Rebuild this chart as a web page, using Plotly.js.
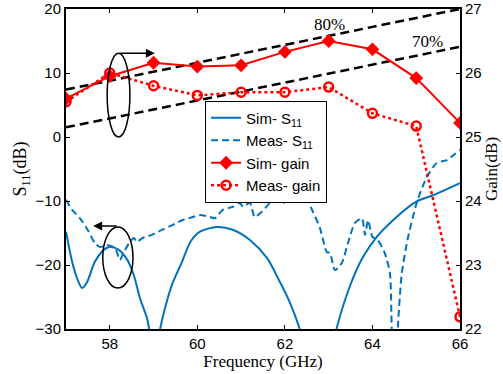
<!DOCTYPE html>
<html>
<head>
<meta charset="utf-8">
<script src="https://cdn.plot.ly/plotly-3.0.1.min.js"></script>
<style>html,body{margin:0;padding:0;background:#fff;}#chart{width:503px;height:374px;}</style>
</head>
<body>
<div id="chart"></div>
<script>
// Simulated S11 (dB)
const simS11Freq = [57.0,57.14,57.25,57.37,57.48,57.66,57.87,58.0,58.2,58.4,58.55,58.69,58.85,58.9,58.98,59.05,59.15,59.24,59.42,59.65,59.85,60.06,60.45,60.81,61.2,61.59,61.89,62.11,62.34,62.5,62.8,63.05,63.19,63.48,63.78,64.1,64.47,65.0,65.38,66.0];
const simS11 = [-14.8,-19.5,-22.0,-23.6,-22.7,-19.5,-17.6,-17.2,-17.6,-19.2,-21.6,-25.2,-28.3,-30.0,-34,-34,-30.0,-27.3,-23.1,-19.5,-16.3,-14.8,-14.06,-14.5,-16.1,-18.9,-22.7,-25.8,-30.0,-34,-38,-34,-29.7,-23.4,-18.8,-15.6,-13.0,-10.1,-9.1,-7.2];
// Measured S11 (dB)
const measS11Freq = [57.0,57.14,57.32,57.52,57.66,57.78,57.94,58.12,58.23,58.32,58.44,58.55,58.62,58.74,58.96,59.19,59.42,59.65,59.85,60.06,60.29,60.4,60.58,60.81,60.97,61.04,61.2,61.31,61.47,61.66,61.82,61.95,62.11,62.27,62.5,62.64,62.8,62.96,63.03,63.14,63.3,63.44,63.6,63.76,63.83,63.9,64.0,64.12,64.28,64.4,64.44,64.51,64.58,64.67,64.8,65.01,65.24,65.47,65.7,66.0];
const measS11 = [-9.8,-11.4,-12.7,-14.8,-16.6,-17.2,-16.9,-17.3,-19.2,-18.0,-16.6,-15.8,-16.4,-15.8,-15.3,-14.5,-13.8,-13.0,-12.6,-12.2,-12.5,-12.7,-11.4,-10.9,-10.3,-10.9,-10.3,-12.5,-11.7,-10.3,-9.8,-10.3,-9.8,-9.5,-9.8,-11.7,-14.2,-18.0,-18.1,-20.8,-19.7,-16.6,-13.4,-12.7,-15.3,-13.0,-15.6,-16.1,-18.1,-21.3,-29.7,-40,-29.7,-21.3,-16.1,-10.3,-6.25,-4.06,-3.6,-2.0];
// Gain (dB)
const gainFreq = [57,58,59,60,61,62,63,64,65,66];
const simGain = [25.6,25.95,26.16,26.1,26.12,26.33,26.5,26.37,25.92,25.22];
const measGain = [25.55,26.0,25.8,25.65,25.7,25.7,25.78,25.37,25.17,22.19];
// Efficiency reference lines (left axis, dB)
const effFreq = [57,66];
const eff80 = [7.4,20.0];
const eff70 = [1.5,14.1];
const effLabels = ['80%','70%'];

const blue = '#0072BD', red = '#FF0000';
const traces = [
  {x: simS11Freq, y: simS11, mode:'lines', name:'Sim- S<sub>11</sub>', line:{color:blue,width:2,shape:'spline',smoothing:0.8}, yaxis:'y'},
  {x: measS11Freq, y: measS11, mode:'lines', name:'Meas- S<sub>11</sub>', line:{color:blue,width:2,dash:'7px,4px',shape:'spline',smoothing:0.6}, yaxis:'y'},
  {x: gainFreq, y: simGain, mode:'lines+markers', name:'Sim- gain', line:{color:red,width:2}, marker:{symbol:'diamond',size:9,color:red,line:{color:red,width:1.5}}, yaxis:'y2'},
  {x: gainFreq, y: measGain, mode:'lines+markers', name:'Meas- gain', line:{color:red,width:2.5,dash:'dot'}, marker:{symbol:'circle-open',size:9,color:red,line:{color:red,width:2.5}}, yaxis:'y2'},
  {x: effFreq, y: eff80, mode:'lines', showlegend:false, line:{color:'black',width:2.5,dash:'9px,5px'}, yaxis:'y', hoverinfo:'skip'},
  {x: effFreq, y: eff70, mode:'lines', showlegend:false, line:{color:'black',width:2.5,dash:'9px,5px'}, yaxis:'y', hoverinfo:'skip'}
];

const tickFont = {family:'Liberation Sans, Arial, sans-serif', size:15, color:'black'};
const titleFont = {family:'Liberation Serif, Times New Roman, serif', size:17, color:'black'};

const layout = {
  width:503, height:374,
  margin:{l:66, r:43, t:9, b:45},
  paper_bgcolor:'white', plot_bgcolor:'white',
  showlegend:true,
  legend:{x:0.353, y:0.714, xanchor:'left', yanchor:'top', bgcolor:'white', bordercolor:'black', borderwidth:1, font:{family:'Liberation Sans, Arial, sans-serif', size:15, color:'black'}},
  xaxis:{range:[57,66], tickvals:[58,60,62,64,66], ticks:'inside', ticklen:4, tickcolor:'black', showline:true, linecolor:'black', linewidth:2, mirror:'ticks', showgrid:false, zeroline:false, tickfont:tickFont,
    title:{text:'Frequency (GHz)', font:titleFont, standoff:4}},
  yaxis:{range:[-30,20], dtick:10, ticks:'inside', ticklen:4, tickcolor:'black', showline:true, linecolor:'black', linewidth:2, showgrid:false, zeroline:false, tickfont:tickFont,
    title:{text:'S<sub>11</sub>(dB)', font:{family:'Liberation Serif, Times New Roman, serif', size:18, color:'black'}, standoff:4}},
  yaxis2:{range:[22,27], dtick:1, overlaying:'y', side:'right', ticks:'inside', ticklen:4, tickcolor:'black', showline:true, linecolor:'black', linewidth:2, showgrid:false, zeroline:false, tickfont:tickFont,
    title:{text:'Gain(dB)', font:titleFont, standoff:4}},
  shapes:[
    {type:'circle', xref:'x', yref:'y', x0:57.94, x1:58.46, y0:0.0, y1:13.1, line:{color:'black',width:1.5}},
    {type:'circle', xref:'x', yref:'y', x0:57.84, x1:58.53, y0:-23.6, y1:-14.06, line:{color:'black',width:1.5}}
  ],
  annotations:[
    {x:59.03, y:13.1, ax:58.19, ay:13.1, xref:'x', yref:'y', axref:'x', ayref:'y', text:'', showarrow:true, arrowhead:2, arrowsize:1.2, arrowwidth:1.5, arrowcolor:'black'},
    {x:57.62, y:-13.9, ax:58.19, ay:-13.9, xref:'x', yref:'y', axref:'x', ayref:'y', text:'', showarrow:true, arrowhead:2, arrowsize:1.2, arrowwidth:1.5, arrowcolor:'black'},
    {x:63.03, y:17.6, xref:'x', yref:'y', text:effLabels[0], showarrow:false, font:{family:'Liberation Serif, Times New Roman, serif', size:17, color:'black'}},
    {x:65.26, y:14.9, xref:'x', yref:'y', text:effLabels[1], showarrow:false, font:{family:'Liberation Serif, Times New Roman, serif', size:17, color:'black'}}
  ]
};

Plotly.newPlot('chart', traces, layout, {staticPlot:true, displayModeBar:false});
</script>
</body>
</html>
